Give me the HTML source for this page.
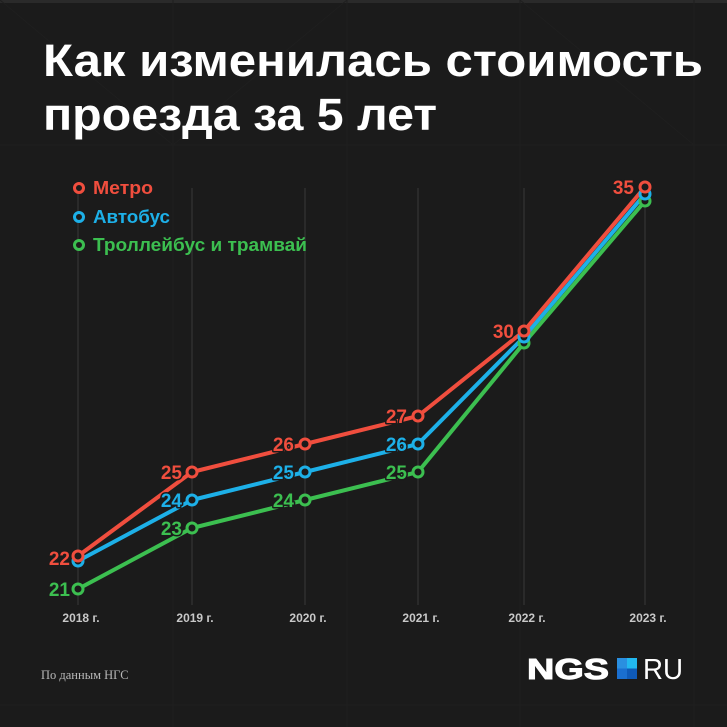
<!DOCTYPE html>
<html>
<head>
<meta charset="utf-8">
<style>
  html,body{margin:0;padding:0;background:#1b1b1b;}
  svg{display:block;}
</style>
</head>
<body>
<svg width="727" height="727" viewBox="0 0 727 727" xmlns="http://www.w3.org/2000/svg">
  <rect x="0" y="0" width="727" height="727" fill="#1b1b1b"/>
  <rect x="0" y="0" width="727" height="3" fill="#2a2a2a"/>
  <!-- faint background pattern -->
  <g stroke="#1f1f1f" stroke-width="1" fill="none">
    <line x1="173" y1="0" x2="173" y2="727"/>
    <line x1="347" y1="0" x2="347" y2="727"/>
    <line x1="520" y1="0" x2="520" y2="727"/>
    <line x1="694" y1="0" x2="694" y2="727"/>
    <line x1="0" y1="145" x2="727" y2="145"/>
    <line x1="0" y1="705" x2="727" y2="705"/>
    <line x1="0" y1="0" x2="173" y2="145"/>
    <line x1="347" y1="0" x2="173" y2="145"/>
    <line x1="520" y1="0" x2="694" y2="145"/>
  </g>

  <!-- title -->
  <g font-family="'Liberation Sans', sans-serif" font-weight="bold" fill="#ffffff" font-size="45">
    <text x="43" y="76" textLength="660" lengthAdjust="spacingAndGlyphs">Как изменилась стоимость</text>
    <text x="43" y="130" textLength="394" lengthAdjust="spacingAndGlyphs">проезда за 5 лет</text>
  </g>

  <!-- gridlines -->
  <g stroke="#3a3a3a" stroke-width="1">
    <line x1="78" y1="188" x2="78" y2="605"/>
    <line x1="192" y1="188" x2="192" y2="605"/>
    <line x1="305" y1="188" x2="305" y2="605"/>
    <line x1="418" y1="188" x2="418" y2="605"/>
    <line x1="524" y1="188" x2="524" y2="605"/>
    <line x1="645" y1="188" x2="645" y2="605"/>
  </g>

  <!-- x labels -->
  <g font-family="'Liberation Sans', sans-serif" font-weight="bold" font-size="12" fill="#c8c8c8" text-anchor="middle">
    <text x="81" y="622">2018 г.</text>
    <text x="195" y="622">2019 г.</text>
    <text x="308" y="622">2020 г.</text>
    <text x="421" y="622">2021 г.</text>
    <text x="527" y="622">2022 г.</text>
    <text x="648" y="622">2023 г.</text>
  </g>

  <!-- legend -->
  <g stroke-width="3" fill="#1b1b1b">
    <circle cx="79" cy="188" r="4.5" stroke="#f04e3e"/>
    <circle cx="79" cy="217" r="4.5" stroke="#1db0e8"/>
    <circle cx="79" cy="245" r="4.5" stroke="#3cbf50"/>
  </g>
  <g font-family="'Liberation Sans', sans-serif" font-weight="bold" font-size="18">
    <text x="93" y="194" fill="#f04e3e" textLength="60" lengthAdjust="spacingAndGlyphs">Метро</text>
    <text x="93" y="223" fill="#1db0e8" textLength="77" lengthAdjust="spacingAndGlyphs">Автобус</text>
    <text x="93" y="251" fill="#3cbf50" textLength="214" lengthAdjust="spacingAndGlyphs">Троллейбус и трамвай</text>
  </g>

  <!-- series lines -->
  <g fill="none" stroke-width="4" stroke-linejoin="round" stroke-linecap="round">
    <polyline stroke="#3cbf50" points="78,589 192,528 305,500 418,472 524,343 645,201"/>
    <polyline stroke="#1db0e8" points="78,561 192,500 305,472 418,444 524,337 645,194"/>
    <polyline stroke="#f04e3e" points="78,556 192,472 305,444 418,416 524,331 645,187"/>
  </g>

  <!-- markers -->
  <g fill="#1b1b1b" stroke-width="3">
    <g stroke="#3cbf50">
      <circle cx="78" cy="589" r="5"/><circle cx="192" cy="528" r="5"/><circle cx="305" cy="500" r="5"/>
      <circle cx="418" cy="472" r="5"/><circle cx="524" cy="343" r="5"/><circle cx="645" cy="201" r="5"/>
    </g>
    <g stroke="#1db0e8">
      <circle cx="78" cy="561" r="5"/><circle cx="192" cy="500" r="5"/><circle cx="305" cy="472" r="5"/>
      <circle cx="418" cy="444" r="5"/><circle cx="524" cy="337" r="5"/><circle cx="645" cy="194" r="5"/>
    </g>
    <g stroke="#f04e3e">
      <circle cx="78" cy="556" r="5"/><circle cx="192" cy="472" r="5"/><circle cx="305" cy="444" r="5"/>
      <circle cx="418" cy="416" r="5"/><circle cx="524" cy="331" r="5"/><circle cx="645" cy="187" r="5"/>
    </g>
  </g>

  <!-- data labels -->
  <g font-family="'Liberation Sans', sans-serif" font-weight="bold" font-size="19" text-anchor="end" stroke="#1b1b1b" stroke-width="3" paint-order="stroke" stroke-linejoin="round">
    <g fill="#3cbf50">
      <text x="70" y="596">21</text>
      <text x="182" y="535">23</text>
      <text x="294" y="507">24</text>
      <text x="407" y="479">25</text>
    </g>
    <g fill="#1db0e8">
      <text x="182" y="507">24</text>
      <text x="294" y="479">25</text>
      <text x="407" y="451">26</text>
    </g>
    <g fill="#f04e3e">
      <text x="70" y="565">22</text>
      <text x="182" y="479">25</text>
      <text x="294" y="451">26</text>
      <text x="407" y="423">27</text>
      <text x="514" y="338">30</text>
      <text x="634" y="194">35</text>
    </g>
  </g>

  <!-- footer -->
  <text x="41" y="679" font-family="'Liberation Serif', serif" font-size="12.5" fill="#b8b8b8">По данным НГС</text>

  <!-- logo -->
  <text x="527" y="679" font-family="'Liberation Sans', sans-serif" font-weight="bold" font-size="29" fill="#ffffff" textLength="82" lengthAdjust="spacingAndGlyphs" stroke="#ffffff" stroke-width="1">NGS</text>
  <rect x="617" y="658" width="10" height="10.5" fill="#2a8fe0"/>
  <rect x="627" y="658" width="10" height="10.5" fill="#22b8f0"/>
  <rect x="617" y="668.5" width="10" height="10.5" fill="#1a6fd0"/>
  <rect x="627" y="668.5" width="10" height="10.5" fill="#0f5ab8"/>
  <text x="643" y="679" font-family="'Liberation Sans', sans-serif" font-size="29" fill="#ffffff" textLength="40" lengthAdjust="spacingAndGlyphs">RU</text>
</svg>
</body>
</html>
